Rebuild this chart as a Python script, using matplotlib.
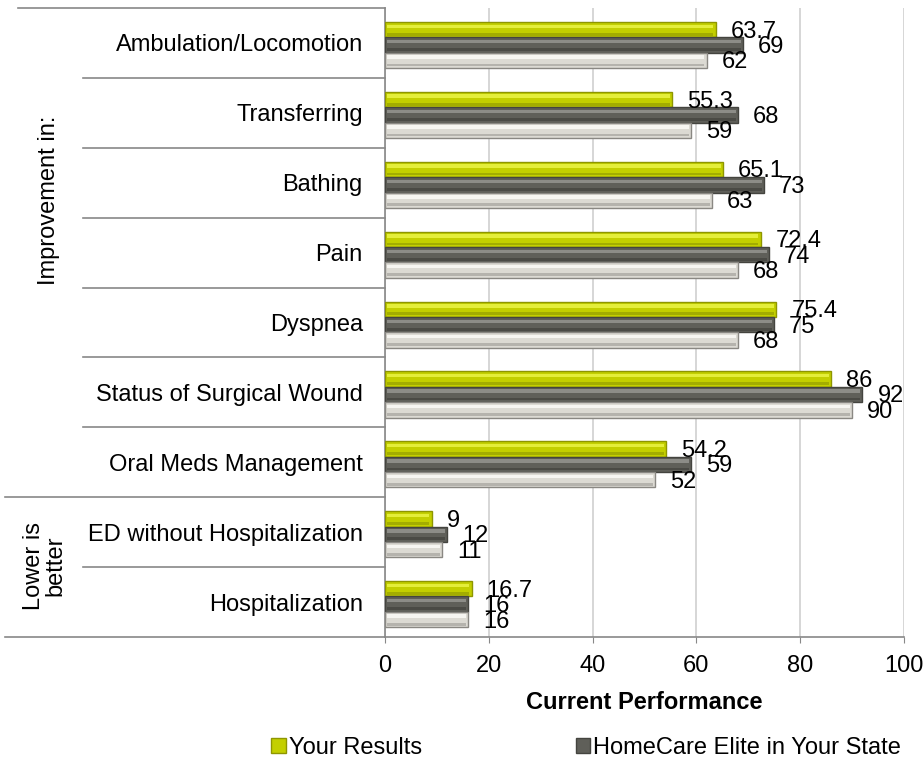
import numpy as np
import matplotlib
matplotlib.use("Agg")
import matplotlib.pyplot as plt
from matplotlib.patches import Patch

plt.rcParams['font.family'] = ['Liberation Sans', 'DejaVu Sans']

# data, top to bottom
categories = ['Ambulation/Locomotion', 'Transferring', 'Bathing', 'Pain', 'Dyspnea',
              'Status of Surgical Wound', 'Oral Meds Management',
              'ED without Hospitalization', 'Hospitalization']
your_results = [63.7, 55.3, 65.1, 72.4, 75.4, 86, 54.2, 9, 16.7]
homecare_elite = [69, 68, 73, 74, 75, 92, 59, 12, 16]
third_series = [62, 59, 63, 68, 68, 90, 52, 11, 16]
value_labels = [
    ['63.7', '55.3', '65.1', '72.4', '75.4', '86', '54.2', '9', '16.7'],
    ['69', '68', '73', '74', '75', '92', '59', '12', '16'],
    ['62', '59', '63', '68', '68', '90', '52', '11', '16'],
]
legend_labels = ['Your Results', 'HomeCare Elite in Your State']

W, H = 923, 765
fig = plt.figure(figsize=(W / 100, H / 100), dpi=100)
ax = fig.add_axes([385 / W, 1 - 637 / H, 519 / W, 629 / H])

y = np.arange(len(categories))
h = 0.22
off = 0.03
series = [your_results, homecare_elite, third_series]
face = ['#c3cf00', '#5f5f59', '#dcdad3']
edge = ['#8e9600', '#44443f', '#8a8883']
hi = ['#e4ee3a', '#8c8c87', '#f6f5f1']
lo = ['#a3ad00', '#4a4a45', '#b5b3ad']

for k, vals in enumerate(series):
    pos = y + off + (k - 1) * h
    vals = np.array(vals)
    ax.barh(pos, vals, height=h, color=face[k], edgecolor=edge[k], linewidth=1.0, zorder=3)
    # bevel: light band on top, darker band on bottom
    ax.barh(pos - h * 0.22, vals - 0.9, left=0.45, height=h * 0.22,
            color=hi[k], linewidth=0, zorder=4)
    ax.barh(pos + h * 0.30, vals - 0.9, left=0.45, height=h * 0.18,
            color=lo[k], linewidth=0, zorder=4)
    for p, v, t in zip(pos, vals, value_labels[k]):
        ax.annotate(t, (v, p), xytext=(15, -2), textcoords='offset pixels',
                    ha='left', va='center', fontsize=17, color='black', zorder=5)

ax.set_xlim(0, 100)
ax.set_ylim(len(categories) - 0.5, -0.5)
ax.set_xticks([0, 20, 40, 60, 80, 100])
ax.tick_params(axis='x', length=4, color='#888888', labelsize=17, pad=9)
ax.set_yticks(y)
ax.set_yticklabels(categories, fontsize=17)
ax.tick_params(axis='y', length=0, pad=16)
ax.xaxis.grid(True, color='#d0d0d0', linewidth=1.2, zorder=0)
ax.set_axisbelow(True)
for s in ['top', 'right']:
    ax.spines[s].set_visible(False)
for s in ['left', 'bottom']:
    ax.spines[s].set_color('#888888')
    ax.spines[s].set_linewidth(1.2)
ax.set_xlabel('Current Performance', fontsize=17, fontweight='bold', labelpad=10)

# category separators in the label area
tr = ax.get_yaxis_transform()
def xf(px):
    return (px - 385) / 519
bounds = [(-0.5, 18), (0.5, 83), (1.5, 83), (2.5, 83), (3.5, 83), (4.5, 83),
          (5.5, 83), (6.5, 5), (7.5, 83), (8.5, 5)]
for yb, x0 in bounds:
    ax.plot([xf(x0), 0], [yb, yb], transform=tr, color='#888888', lw=1.2, clip_on=False)

fig.text(49 / W, 1 - 200 / H, 'Improvement in:', rotation=90, ha='center', va='center', fontsize=17)
fig.text(45 / W, 1 - 566 / H, 'Lower is\nbetter', rotation=90, ha='center', va='center',
         fontsize=17, linespacing=0.95)

handles = [Patch(facecolor=face[0], edgecolor=edge[0]), Patch(facecolor=face[1], edgecolor=edge[1])]
fig.legend(handles, legend_labels, loc='center left', bbox_to_anchor=(262 / W, 1 - 748 / H),
           ncol=2, frameon=False, fontsize=17, handlelength=0.6, handleheight=0.6,
           handletextpad=0.15, columnspacing=6.5, borderaxespad=0)

fig.savefig('out.png', dpi=100)
